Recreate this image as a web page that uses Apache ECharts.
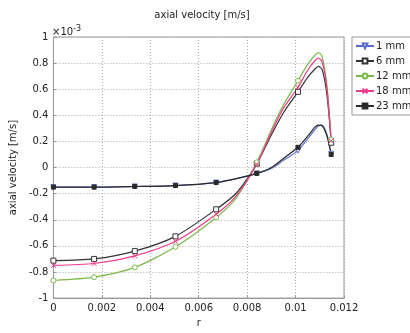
<!DOCTYPE html>
<html><head><meta charset="utf-8">
<script src="https://cdn.jsdelivr.net/npm/echarts@6/dist/echarts.min.js"></script>
<style>html,body{margin:0;padding:0;background:#fff}#c{width:410px;height:333px}</style>
</head><body><div id="c"></div>
<script>
// r positions [m]
var rValues = [0, 0.00168, 0.00336, 0.00504, 0.00672, 0.00756, 0.0084, 0.009, 0.0095, 0.0101, 0.0105, 0.0108, 0.01095, 0.0111, 0.0113, 0.01147];
// indices where markers are drawn
var markerIdx = [0, 1, 2, 3, 4, 6, 9, 15];
// axial velocity values in units of 1e-3 m/s
var v1mm  = [-0.15, -0.15, -0.145, -0.138, -0.115, -0.085, -0.045, -0.007, 0.055, 0.13, 0.22, 0.29, 0.32, 0.325, 0.25, 0.105];
var v6mm  = [-0.713, -0.70, -0.64, -0.527, -0.32, -0.195, 0.03, 0.25, 0.42, 0.58, 0.69, 0.755, 0.775, 0.75, 0.55, 0.19];
var v12mm = [-0.865, -0.84, -0.765, -0.607, -0.382, -0.23, 0.04, 0.29, 0.48, 0.665, 0.79, 0.86, 0.88, 0.85, 0.62, 0.215];
var v18mm = [-0.75, -0.735, -0.677, -0.565, -0.357, -0.215, 0.025, 0.27, 0.455, 0.615, 0.745, 0.82, 0.838, 0.81, 0.60, 0.205];
var v23mm = [-0.15, -0.15, -0.145, -0.138, -0.115, -0.085, -0.045, 0.0, 0.07, 0.155, 0.24, 0.31, 0.325, 0.32, 0.24, 0.10];
var seriesNames = ['1 mm', '6 mm', '12 mm', '18 mm', '23 mm'];
var xTicks = [0, 0.002, 0.004, 0.006, 0.008, 0.01, 0.012];
var yTicks = [-1, -0.8, -0.6, -0.4, -0.2, 0, 0.2, 0.4, 0.6, 0.8, 1];

var FONT = 'DejaVu Sans';
function build(vals){
  return vals.map(function(v,i){
    var d = {value:[rValues[i], v]};
    if (markerIdx.indexOf(i) < 0) d.symbol = 'none';
    return d;
  });
}
var styles = [
  {color:'#5c6ccc', symbol:'triangle', rot:180, fill:'#fff', size:5},
  {color:'#333333', symbol:'rect', rot:0, fill:'#fff', size:5},
  {color:'#7cb84a', symbol:'circle', rot:0, fill:'#fff', size:5},
  {color:'#ee3b8c', symbol:'path://M0,0L10,10M10,0L0,10', rot:0, fill:'none', size:5},
  {color:'#2a2a2a', symbol:'rect', rot:0, fill:'#2a2a2a', size:4}
];
var allVals = [v1mm, v6mm, v12mm, v18mm, v23mm];
var series = allVals.map(function(vals, k){
  var s = styles[k];
  return {
    name: seriesNames[k], type:'line', data: build(vals), smooth: 0.25,
    symbol: s.symbol, symbolRotate: s.rot, symbolSize: s.size, showAllSymbol: true,
    lineStyle:{color:s.color, width:1.2},
    itemStyle:{color:s.fill, borderColor:s.color, borderWidth:1},
    emphasis:{disabled:true}, animation:false
  };
});
var chart = echarts.init(document.getElementById('c'), null, {renderer:'canvas'});
chart.setOption({
  animation:false,
  title:{text:'axial velocity [m/s]', left:197, textAlign:'center', top:5,
    textStyle:{fontFamily:FONT, fontSize:10, fontWeight:'normal', color:'#222'}},
  grid:{left:50, right:66, top:37, bottom:29, show:true, borderColor:'#999', borderWidth:1},
  legend:{orient:'vertical', left:352, top:37, itemWidth:18, itemHeight:6, itemGap:5,
    padding:[4,4,4,3], borderColor:'#999', borderWidth:1, backgroundColor:'#fff',
    textStyle:{fontFamily:FONT, fontSize:10, color:'#222', padding:[0,0,0,-3]}, data:seriesNames},
  xAxis:{type:'value', min:0, max:0.012, interval:0.002, name:'r', nameLocation:'middle', nameGap:16,
    nameTextStyle:{fontFamily:FONT, fontSize:10, color:'#222'},
    axisLine:{onZero:false, lineStyle:{color:'#999'}}, axisTick:{inside:true, length:3, lineStyle:{color:'#999'}},
    axisLabel:{fontFamily:FONT, fontSize:10, color:'#222', margin:5,
      formatter:function(v){ var t = xTicks.filter(function(x){return Math.abs(x-v)<1e-9;}); return t.length? String(t[0]) : ''; }},
    splitLine:{show:true, lineStyle:{color:'#aaa', type:[1,2], width:1}}},
  yAxis:{type:'value', min:-1, max:1, interval:0.2, name:'axial velocity [m/s]', nameLocation:'middle', nameGap:33,
    nameTextStyle:{fontFamily:FONT, fontSize:10, color:'#222'},
    axisLine:{onZero:false, lineStyle:{color:'#999'}}, axisTick:{inside:true, length:3, lineStyle:{color:'#999'}},
    axisLabel:{fontFamily:FONT, fontSize:10, color:'#222', margin:5,
      formatter:function(v){ var t = yTicks.filter(function(y){return Math.abs(y-v)<1e-9;}); return t.length? String(t[0]) : ''; }},
    splitLine:{show:true, lineStyle:{color:'#aaa', type:[1,2], width:1}}},
  graphic:[{type:'text', left:52, top:25, style:{text:'×10{s|-3}', rich:{s:{fontSize:8, verticalAlign:'top', padding:[0,0,6,0], fontFamily:FONT, fill:'#222'}},
    font:'10px "DejaVu Sans"', fill:'#222'}}],
  series: series
});
</script></body></html>
